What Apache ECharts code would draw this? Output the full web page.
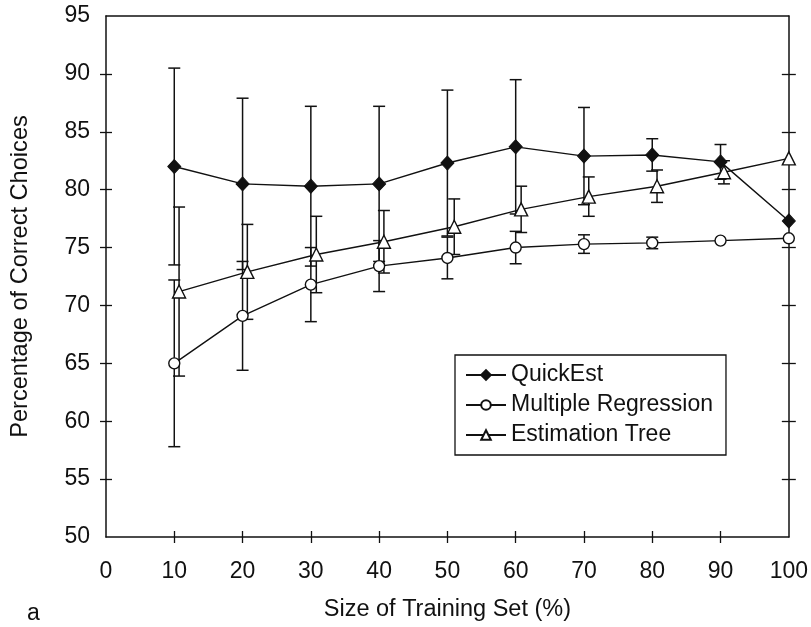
<!DOCTYPE html>
<html>
<head>
<meta charset="utf-8">
<script src="https://cdn.jsdelivr.net/npm/echarts@6/dist/echarts.min.js"></script>
<style>
html, body { margin: 0; padding: 0; background: #fff; }
#chart { width: 811px; height: 627px; }
</style>
</head>
<body>
<div id="chart"></div>
<script>
// training set sizes (%)
var sizes = [10, 20, 30, 40, 50, 60, 70, 80, 90, 100];
// estimation tree points are drawn a little to the right in the original
var treeSizes = [10.7, 20.7, 30.8, 40.7, 51.0, 60.8, 70.7, 80.7, 90.5, 100];

var quickEst = [82.0, 80.5, 80.3, 80.5, 82.3, 83.7, 82.9, 83.0, 82.4, 77.3];
var quickEstErr = [8.5, 7.4, 6.9, 6.7, 6.3, 5.8, 4.2, 1.4, 1.5, 0];

var regression = [65.0, 69.1, 71.8, 73.4, 74.1, 75.0, 75.3, 75.4, 75.6, 75.8];
var regressionErr = [7.2, 4.7, 3.2, 2.2, 1.8, 1.4, 0.8, 0.5, 0, 0];

var tree = [71.2, 72.9, 74.4, 75.5, 76.8, 78.3, 79.4, 80.3, 81.5, 82.7];
var treeErr = [7.3, 4.1, 3.3, 2.7, 2.4, 2.0, 1.7, 1.4, 1.0, 0];

var xInnerTicks = [10, 20, 30, 40, 50, 60, 70, 80, 90];
var yInnerTicks = [55, 60, 65, 70, 75, 80, 85, 90];

var FONT = 'Liberation Sans, Arial, sans-serif';
var INK = '#111';

function pairs(xs, ys) {
    return xs.map(function (x, i) { return [x, ys[i]]; });
}
function errRows(xs, ys, errs) {
    return xs.map(function (x, i) { return [x, ys[i] - errs[i], ys[i] + errs[i]]; });
}

// vertical bar with caps
function renderErr(params, api) {
    var x = api.value(0), lo = api.value(1), hi = api.value(2);
    if (hi - lo < 0.05) return;
    var t = api.coord([x, hi]);
    var b = api.coord([x, lo]);
    var w = 6;
    var st = { stroke: INK, lineWidth: 1.5 };
    return {
        type: 'group',
        children: [
            { type: 'line', shape: { x1: t[0], y1: t[1], x2: b[0], y2: b[1] }, style: st },
            { type: 'line', shape: { x1: t[0] - w, y1: t[1], x2: t[0] + w, y2: t[1] }, style: st },
            { type: 'line', shape: { x1: b[0] - w, y1: b[1], x2: b[0] + w, y2: b[1] }, style: st }
        ]
    };
}

// one axis; several are stacked so ticks cross the frame lines
function xAx(pos, opts) {
    return Object.assign({
        type: 'value', position: pos, min: 0, max: 100, interval: 10,
        axisLine: { show: true, onZero: false, lineStyle: { color: INK, width: 1.5 } },
        axisTick: { show: false },
        axisLabel: { show: false },
        splitLine: { show: false }
    }, opts);
}
function yAx(pos, opts) {
    return Object.assign({
        type: 'value', position: pos, min: 50, max: 95, interval: 5,
        axisLine: { show: true, onZero: false, lineStyle: { color: INK, width: 1.5 } },
        axisTick: { show: false },
        axisLabel: { show: false },
        splitLine: { show: false }
    }, opts);
}

var chart = echarts.init(document.getElementById('chart'));

var option = {
    animation: false,
    backgroundColor: '#fff',
    textStyle: { fontFamily: FONT },
    grid: { left: 105, right: 21, top: 16, bottom: 85 },
    xAxis: [
        xAx('bottom', {
            name: 'Size of Training Set (%)',
            nameLocation: 'middle',
            nameGap: 61,
            nameTextStyle: { fontSize: 23.5, color: INK, fontFamily: FONT },
            axisTick: { show: true, inside: false, length: 6, customValues: xInnerTicks, lineStyle: { color: INK, width: 1.3 } },
            axisLabel: { show: true, margin: 23, fontSize: 23, color: INK, fontFamily: FONT }
        }),
        xAx('bottom', {
            axisLine: { show: false, onZero: false },
            axisTick: { show: true, inside: true, length: 6, customValues: xInnerTicks, lineStyle: { color: INK, width: 1.3 } }
        }),
        xAx('top', {})
    ],
    yAxis: [
        yAx('left', {
            name: 'Percentage of Correct Choices',
            nameLocation: 'middle',
            nameGap: 74,
            nameTextStyle: { fontSize: 23.6, color: INK, fontFamily: FONT },
            axisTick: { show: true, inside: false, length: 6, customValues: yInnerTicks, lineStyle: { color: INK, width: 1.3 } },
            axisLabel: { show: true, margin: 16, fontSize: 23, color: INK, fontFamily: FONT }
        }),
        yAx('left', {
            axisLine: { show: false, onZero: false },
            axisTick: { show: true, inside: true, length: 6, customValues: yInnerTicks, lineStyle: { color: INK, width: 1.3 } }
        }),
        yAx('right', {
            axisTick: { show: true, inside: false, length: 7, customValues: yInnerTicks, lineStyle: { color: INK, width: 1.3 } }
        }),
        yAx('right', {
            axisLine: { show: false, onZero: false },
            axisTick: { show: true, inside: true, length: 7, customValues: yInnerTicks, lineStyle: { color: INK, width: 1.3 } }
        })
    ],
    legend: {
        orient: 'vertical',
        left: 455,
        top: 355,
        padding: [8.5, 13, 8.5, 10],
        itemGap: 7,
        itemWidth: 40,
        itemHeight: 12,
        borderColor: INK,
        borderWidth: 1.3,
        borderRadius: 0,
        backgroundColor: '#fff',
        textStyle: { fontSize: 23, color: INK, fontFamily: FONT, padding: [0, 0, 0, 0] },
        data: ['QuickEst', 'Multiple Regression', 'Estimation Tree']
    },
    graphic: [
        { type: 'text', left: 27, top: 602, style: { text: 'a', fontSize: 23, fill: INK, fontFamily: FONT } }
    ],
    series: [
        { name: 'qe-err', type: 'custom', renderItem: renderErr, data: errRows(sizes, quickEst, quickEstErr), encode: { x: 0, y: [1, 2] }, z: 1, silent: true },
        { name: 'mr-err', type: 'custom', renderItem: renderErr, data: errRows(sizes, regression, regressionErr), encode: { x: 0, y: [1, 2] }, z: 1, silent: true },
        { name: 'et-err', type: 'custom', renderItem: renderErr, data: errRows(treeSizes, tree, treeErr), encode: { x: 0, y: [1, 2] }, z: 1, silent: true },
        {
            name: 'QuickEst', type: 'line', z: 3,
            data: pairs(sizes, quickEst),
            symbol: 'diamond', symbolSize: [13, 14],
            lineStyle: { color: INK, width: 1.4 },
            itemStyle: { color: INK, borderColor: INK, borderWidth: 1 }
        },
        {
            name: 'Multiple Regression', type: 'line', z: 3,
            data: pairs(sizes, regression),
            symbol: 'circle', symbolSize: 11,
            lineStyle: { color: INK, width: 1.4 },
            itemStyle: { color: '#fff', borderColor: INK, borderWidth: 1.4 }
        },
        {
            name: 'Estimation Tree', type: 'line', z: 3,
            data: pairs(treeSizes, tree),
            symbol: 'triangle', symbolSize: [13, 13],
            lineStyle: { color: INK, width: 1.4 },
            itemStyle: { color: '#fff', borderColor: INK, borderWidth: 1.4 }
        }
    ]
};

chart.setOption(option);
</script>
</body>
</html>
